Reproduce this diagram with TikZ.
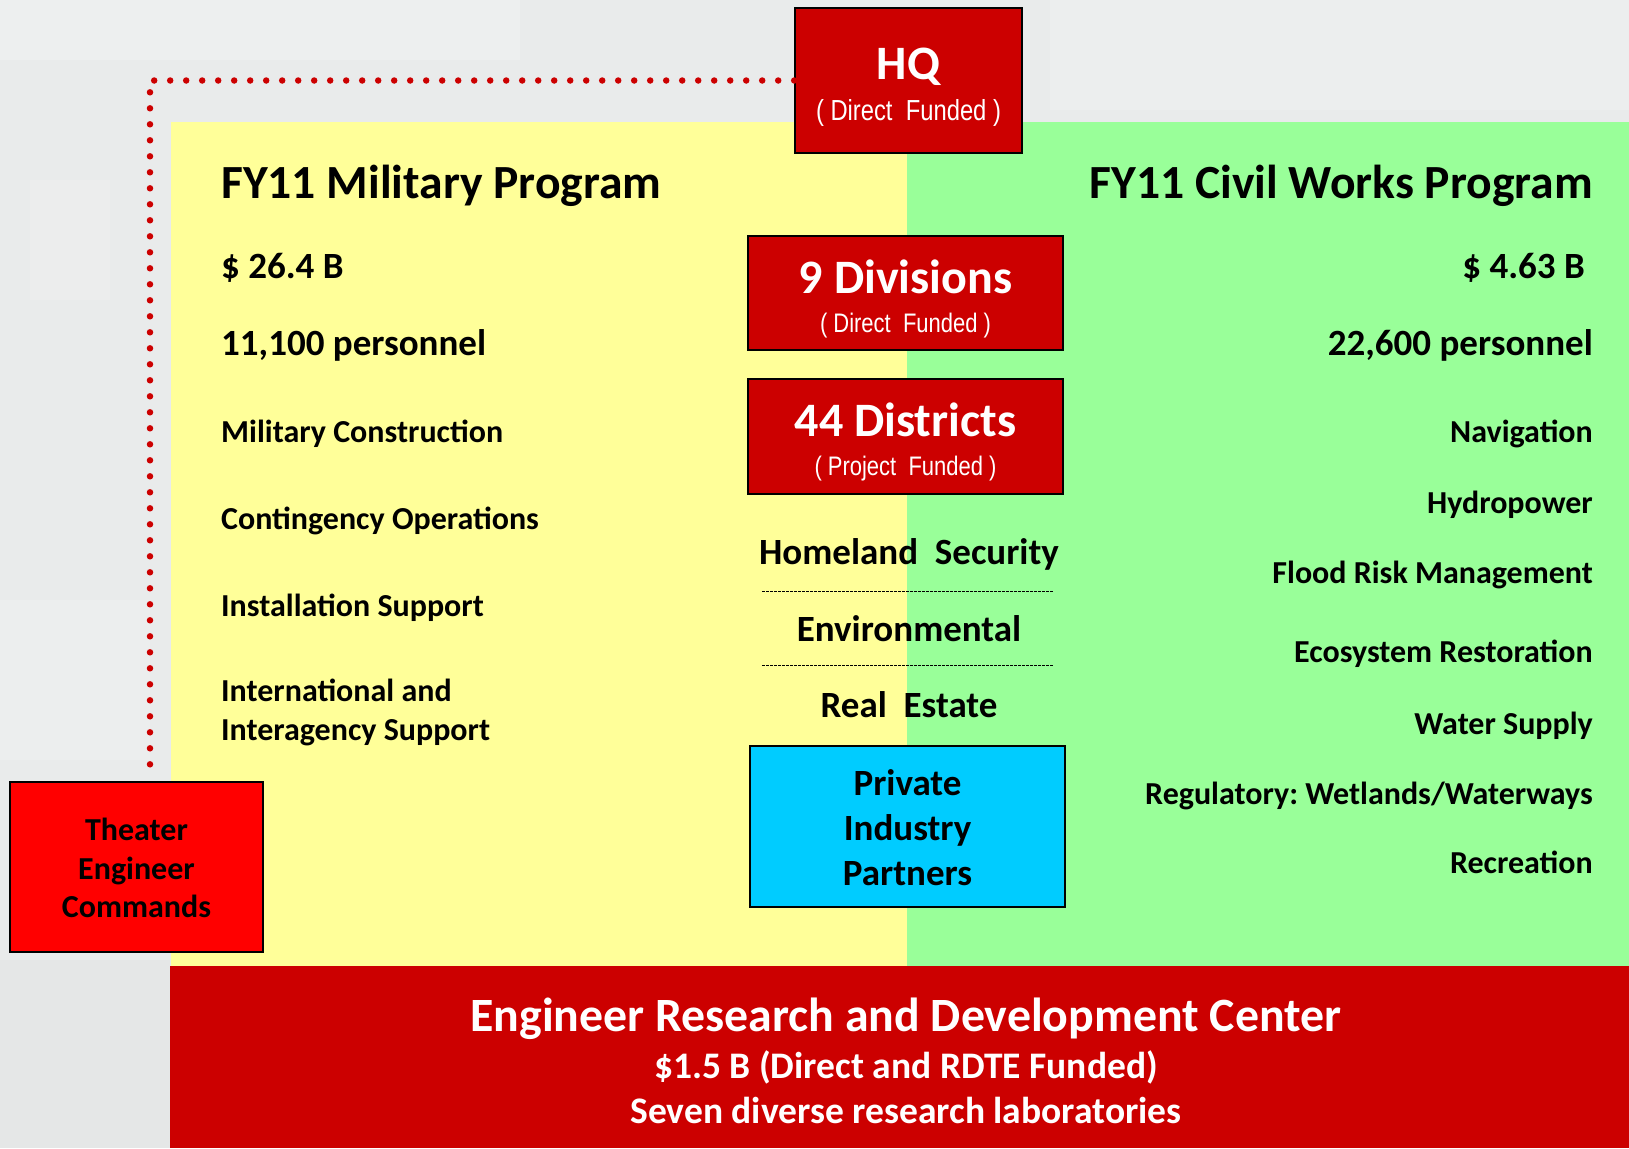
\documentclass[tikz,border=0pt]{standalone}
\usepackage{fontspec}
\setmainfont{Carlito}
\newfontfamily\narrowfont[FakeStretch=0.82]{Liberation Sans}
\definecolor{ercred}{HTML}{CC0000}
\definecolor{tecred}{HTML}{FF0000}
\definecolor{milyel}{HTML}{FFFF99}
\definecolor{civgrn}{HTML}{99FF99}
\definecolor{pipcyan}{HTML}{00CCFF}
\definecolor{bggray}{HTML}{E9EBEB}
\newcommand{\fs}[1]{\fontsize{#1}{#1}\selectfont}
\frenchspacing
\tikzset{
  boxframe/.style={draw=black, line width=1.6pt, inner sep=0pt},
  redbox/.style={boxframe, fill=ercred},
  bigwhite/.style={text=white, font=\fs{48}\bfseries, inner sep=0pt},
  subwhite/.style={text=white, font=\narrowfont\fs{26.8}, inner sep=0pt},
  leftitem/.style={anchor=base west, inner sep=0pt, font=\fs{32}\bfseries},
  rightitem/.style={anchor=base east, inner sep=0pt, font=\fs{32}\bfseries},
  midhead/.style={anchor=base west, inner sep=0pt, font=\fs{37}\bfseries},
  midheadr/.style={anchor=base east, inner sep=0pt, font=\fs{37}\bfseries},
  titleL/.style={anchor=base west, inner sep=0pt, font=\fs{47.6}\bfseries},
  titleR/.style={anchor=base east, inner sep=0pt, font=\fs{47.6}\bfseries},
  centeritem/.style={anchor=base, inner sep=0pt, font=\fs{37}\bfseries},
  tecitem/.style={anchor=base, inner sep=0pt, font=\fs{32}\bfseries},
  erdcline/.style={anchor=base, inner sep=0pt, text=white, font=\fs{37.5}\bfseries},
  sepline/.style={line width=0.9pt, dash pattern=on 2.5pt off 1.5pt},
  reddots/.style={draw=ercred, line width=6.5pt, line cap=round, dash pattern=on 0pt off 16pt}
}
\begin{document}
\begin{tikzpicture}[x=1pt,y=-1pt]
\useasboundingbox (0,0) rectangle (1629,1148);
% background
\fill[bggray] (0,0) rectangle (1629,1148);
\fill[white,opacity=0.22] (0,0) rectangle (520,60);
\fill[white,opacity=0.18] (1050,0) rectangle (1629,110);
\fill[white,opacity=0.18] (0,600) rectangle (150,760);
\fill[white,opacity=0.15] (30,180) rectangle (110,300);
\fill[gray,opacity=0.03] (0,960) rectangle (170,1148);
% panels
\fill[milyel] (171,122) rectangle (907,966);
\fill[civgrn] (907,122) rectangle (1629,966);
\fill[ercred] (170,966) rectangle (1629,1148);

% boxes
\node[redbox, minimum width=227pt, minimum height=145pt] (hq) at (908.5,80.5) {};
\node[redbox, minimum width=315pt, minimum height=114pt] (div) at (905.5,293) {};
\node[redbox, minimum width=315pt, minimum height=115pt] (dist) at (905.5,436.5) {};
\node[boxframe, fill=pipcyan, minimum width=315pt, minimum height=161pt] (pip) at (907.5,826.5) {};
\node[boxframe, fill=tecred, minimum width=253pt, minimum height=170pt] (tec) at (136.5,867) {};

% dotted connector HQ -> Theater Engineer Commands
\coordinate (dotend) at (150,774);
\draw[reddots] (hq.west) -| (dotend);

% box texts
\node[bigwhite, anchor=base] (hqt) at (908.5,79) {HQ};
\node[subwhite, anchor=base, font=\narrowfont\fs{29}] (hqs) at (908.5,120) {( Direct~~Funded )};
\node[bigwhite, anchor=base] (divt) at (905.5,293) {9 Divisions};
\node[subwhite, anchor=base] (divs) at (905.5,332) {( Direct~~Funded )};
\node[bigwhite, anchor=base] (distt) at (905.5,436) {44 Districts};
\node[subwhite, anchor=base] (dists) at (905.5,475) {( Project~~Funded )};
\node[centeritem] (pip1) at (907.5,795) {Private};
\node[centeritem] (pip2) at (907.5,840) {Industry};
\node[centeritem] (pip3) at (907.5,885) {Partners};
\node[tecitem] (tec1) at (136.5,840) {Theater};
\node[tecitem] (tec2) at (136.5,879) {Engineer};
\node[tecitem] (tec3) at (136.5,917) {Commands};

% middle shared missions
\node[centeritem] (hs) at (909,564) {Homeland~~Security};
\draw[sepline] (762,591) -- (1053,591);
\node[centeritem] (env) at (909,641) {Environmental};
\draw[sepline] (762,665) -- (1053,665);
\node[centeritem] (re) at (909,717) {Real~~Estate};

% military program
\node[titleL] (milt) at (221,198) {FY11 Military Program};
\node[midhead] (mil1) at (221,278) {\$ 26.4 B};
\node[midhead] (mil2) at (221,355) {11,100 personnel};
\node[leftitem] (mil3) at (221,442) {Military Construction};
\node[leftitem] (mil4) at (221,529) {Contingency Operations};
\node[leftitem] (mil5) at (221,616) {Installation Support};
\node[leftitem] (mil6) at (221,701) {International and};
\node[leftitem] (mil7) at (221,740) {Interagency Support};

% civil works program
\node[titleR] (civt) at (1593,198) {FY11 Civil Works Program};
\node[midheadr] (civ1) at (1585,278) {\$ 4.63 B};
\node[midheadr] (civ2) at (1593,355) {22,600 personnel};
\node[rightitem] (civ3) at (1593,442) {Navigation};
\node[rightitem] (civ4) at (1593,513) {Hydropower};
\node[rightitem] (civ5) at (1593,583) {Flood Risk Management};
\node[rightitem] (civ6) at (1593,662) {Ecosystem Restoration};
\node[rightitem] (civ7) at (1593,734) {Water Supply};
\node[rightitem] (civ8) at (1593,804) {Regulatory: Wetlands/Waterways};
\node[rightitem] (civ9) at (1593,873) {Recreation};

% ERDC band
\node[erdcline, font=\fs{47.8}\bfseries] (erdc1) at (906,1031) {Engineer Research and Development Center};
\node[erdcline] (erdc2) at (906,1078) {\$1.5 B (Direct and RDTE Funded)};
\node[erdcline] (erdc3) at (906,1123) {Seven diverse research laboratories};
\end{tikzpicture}
\end{document}
